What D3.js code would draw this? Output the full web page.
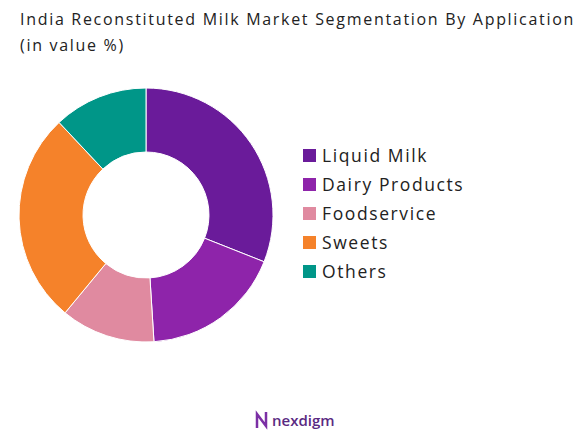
<!DOCTYPE html><html><head><meta charset="utf-8"><script src="https://cdn.jsdelivr.net/npm/d3@7"></script>
<style>body{margin:0;background:#fff}</style></head><body><svg id="c" width="577" height="442"></svg>
<script>
const categories=["Liquid Milk","Dairy Products","Foodservice","Sweets","Others"];
const values=[31,18,12,27,12];
const colors=["#6a1b9a","#8e24aa","#e08aa0","#f5822a","#009688"];
const svg=d3.select("#c");
const F="'Open Sans'";
svg.append("text").attr("x",20).attr("y",25).attr("font-family",F).attr("font-size",16).attr("letter-spacing",1.7).attr("fill","#222").text("India Reconstituted Milk Market Segmentation By Application");
svg.append("text").attr("x",20).attr("y",51).attr("font-family",F).attr("font-size",16).attr("letter-spacing",1.7).attr("fill","#222").text("(in value %)");
const pie=d3.pie().sort(null).value(d=>d)(values);
const arc=d3.arc().innerRadius(63).outerRadius(127);
svg.append("g").attr("transform","translate(146,215)").selectAll("path").data(pie).join("path").attr("d",arc).attr("fill",(d,i)=>colors[i]).attr("stroke","#fff").attr("stroke-width",1);
const y=d3.scalePoint().domain(categories).range([156,272]);
const lg=svg.append("g");
categories.forEach((c,i)=>{
 lg.append("rect").attr("x",303).attr("y",y(c)-7).attr("width",13).attr("height",13).attr("fill",colors[i]);
 lg.append("text").attr("x",322).attr("y",y(c)+6).attr("font-family",F).attr("font-size",17.5).attr("letter-spacing",1.6).attr("fill","#222").text(c);
});
const logo=svg.append("g");
logo.append("path").attr("d","M257 428 L257 414 L266 426 L266 412").attr("fill","none").attr("stroke","#7b2fa5").attr("stroke-width",2.5);
logo.append("text").attr("x",272).attr("y",426).attr("font-family",F).attr("font-size",15).attr("font-weight",600).attr("fill","#5a2a82").text("nexdigm");
</script></body></html>
